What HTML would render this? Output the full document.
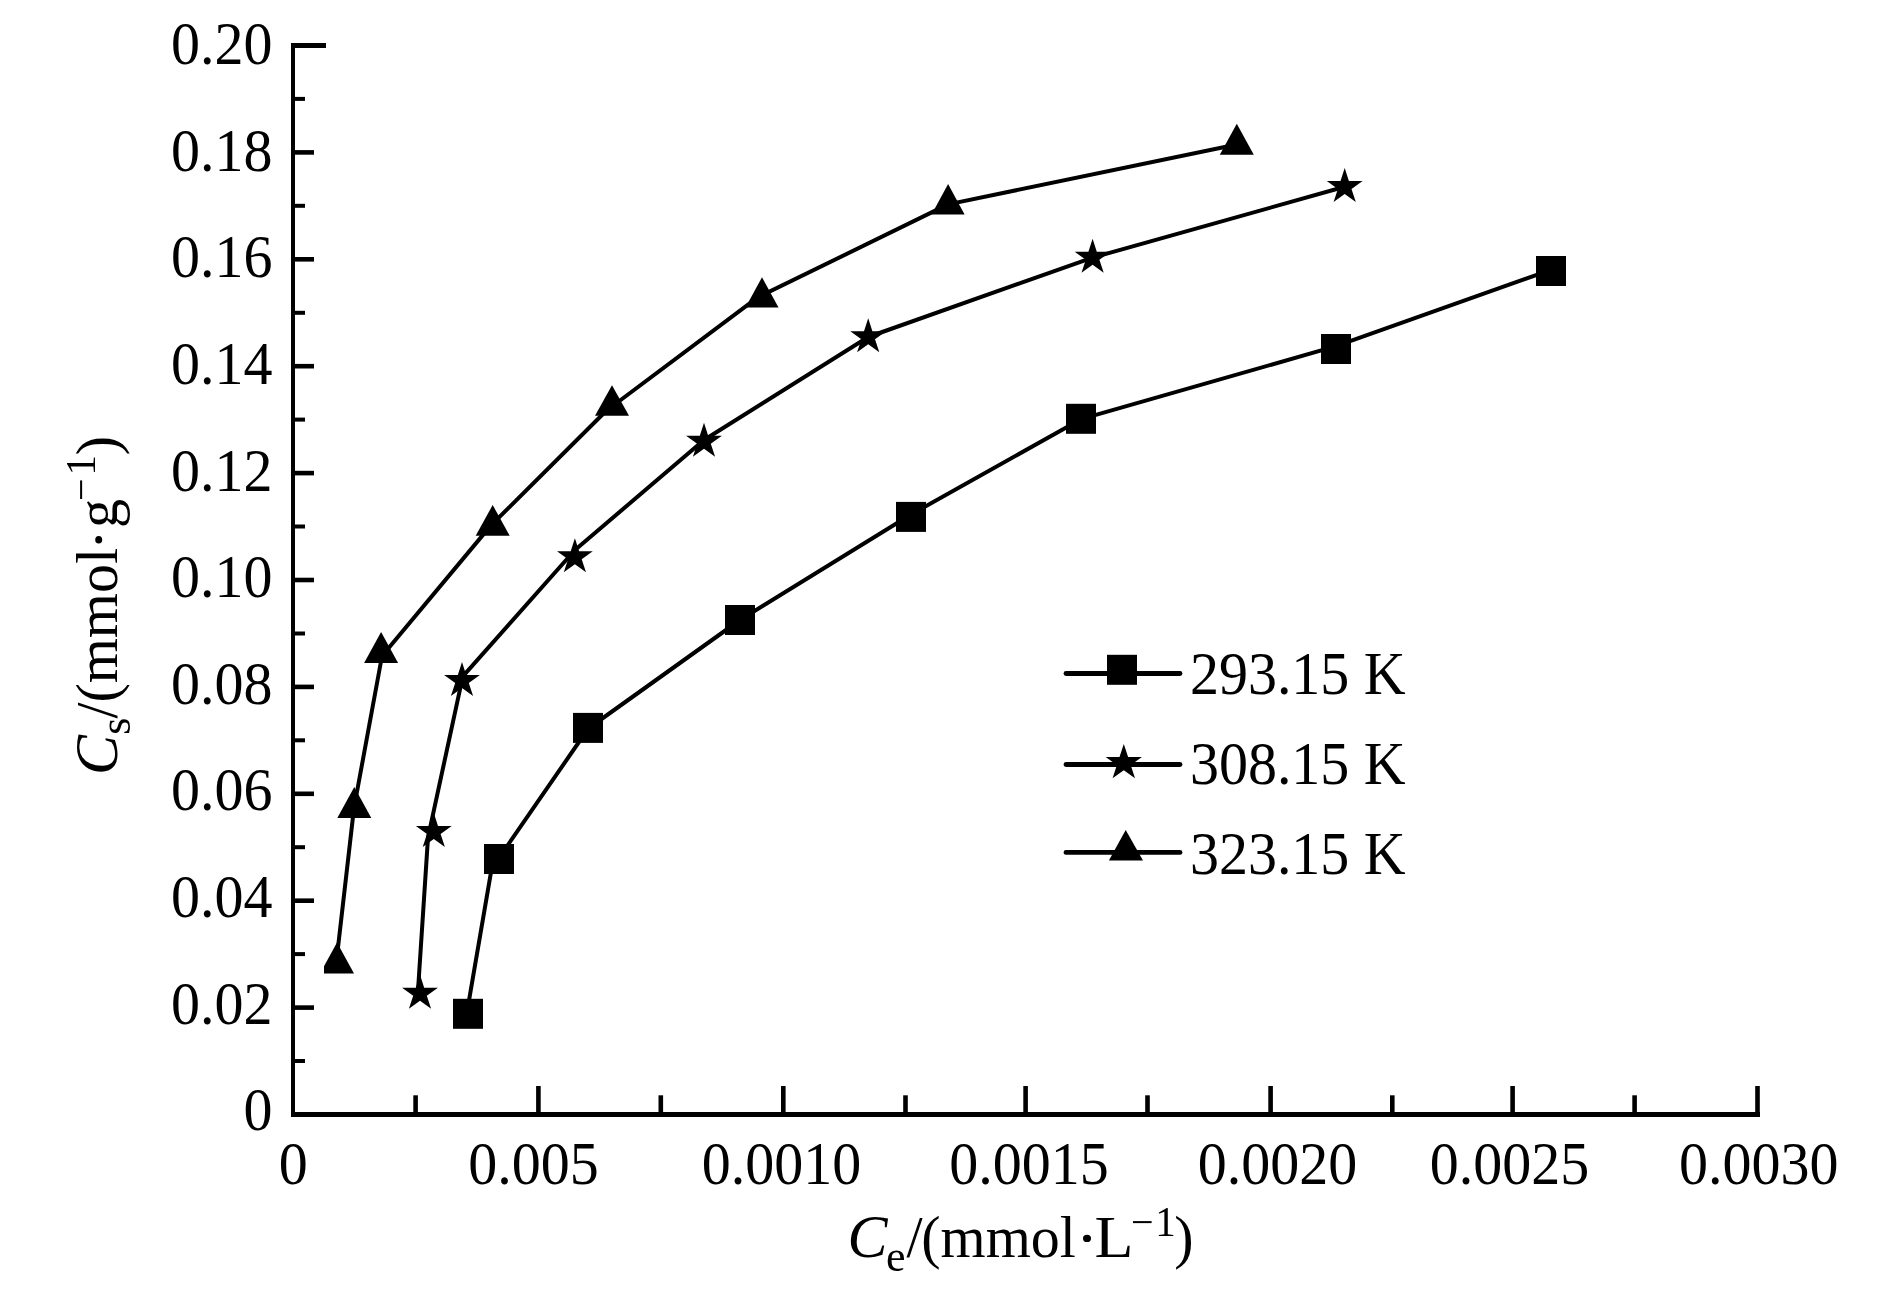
<!DOCTYPE html>
<html><head><meta charset="utf-8"><style>
html,body{margin:0;padding:0;background:#fff;}
body{width:1890px;height:1299px;overflow:hidden;}
svg{display:block;will-change:transform;}
.t{font-family:"Liberation Serif", serif;font-size:58px;fill:#000;}
</style></head><body>
<svg width="1890" height="1299" viewBox="0 0 1890 1299">
<rect width="1890" height="1299" fill="#fff"/>
<rect x="291" y="43" width="4" height="1074" fill="#000"/>
<rect x="291" y="1112" width="1469" height="5" fill="#000"/>
<rect x="291" y="43" width="35" height="5" fill="#000"/>
<rect x="295" y="1005.3" width="19" height="4.6" fill="#000"/>
<rect x="295" y="898.4" width="19" height="4.6" fill="#000"/>
<rect x="295" y="791.5" width="19" height="4.6" fill="#000"/>
<rect x="295" y="684.6" width="19" height="4.6" fill="#000"/>
<rect x="295" y="577.7" width="19" height="4.6" fill="#000"/>
<rect x="295" y="470.8" width="19" height="4.6" fill="#000"/>
<rect x="295" y="363.9" width="19" height="4.6" fill="#000"/>
<rect x="295" y="257.0" width="19" height="4.6" fill="#000"/>
<rect x="295" y="150.1" width="19" height="4.6" fill="#000"/>
<rect x="295" y="1059.0" width="10" height="4" fill="#000"/>
<rect x="295" y="952.1" width="10" height="4" fill="#000"/>
<rect x="295" y="845.2" width="10" height="4" fill="#000"/>
<rect x="295" y="738.3" width="10" height="4" fill="#000"/>
<rect x="295" y="631.5" width="10" height="4" fill="#000"/>
<rect x="295" y="524.5" width="10" height="4" fill="#000"/>
<rect x="295" y="417.6" width="10" height="4" fill="#000"/>
<rect x="295" y="310.8" width="10" height="4" fill="#000"/>
<rect x="295" y="203.8" width="10" height="4" fill="#000"/>
<rect x="295" y="96.9" width="10" height="4" fill="#000"/>
<rect x="536.1" y="1086" width="4.6" height="27" fill="#000"/>
<rect x="781.0" y="1086" width="4.6" height="27" fill="#000"/>
<rect x="1023.3" y="1086" width="4.6" height="27" fill="#000"/>
<rect x="1268.3" y="1086" width="4.6" height="27" fill="#000"/>
<rect x="1510.3" y="1086" width="4.6" height="27" fill="#000"/>
<rect x="1755.2" y="1086" width="4.6" height="27" fill="#000"/>
<rect x="413.3" y="1095.3" width="4.6" height="17.5" fill="#000"/>
<rect x="658.5" y="1095.3" width="4.6" height="17.5" fill="#000"/>
<rect x="903.2" y="1095.3" width="4.6" height="17.5" fill="#000"/>
<rect x="1145.2" y="1095.3" width="4.6" height="17.5" fill="#000"/>
<rect x="1390.0" y="1095.3" width="4.6" height="17.5" fill="#000"/>
<rect x="1632.3" y="1095.3" width="4.6" height="17.5" fill="#000"/>
<text transform="translate(272.4,1130.2) scale(1,1.04)" text-anchor="end" class="t">0</text>
<text transform="translate(272.4,1023.6) scale(1,1.04)" text-anchor="end" class="t">0.02</text>
<text transform="translate(272.4,917.0) scale(1,1.04)" text-anchor="end" class="t">0.04</text>
<text transform="translate(272.4,810.4) scale(1,1.04)" text-anchor="end" class="t">0.06</text>
<text transform="translate(272.4,703.8) scale(1,1.04)" text-anchor="end" class="t">0.08</text>
<text transform="translate(272.4,597.2) scale(1,1.04)" text-anchor="end" class="t">0.10</text>
<text transform="translate(272.4,490.6) scale(1,1.04)" text-anchor="end" class="t">0.12</text>
<text transform="translate(272.4,384.0) scale(1,1.04)" text-anchor="end" class="t">0.14</text>
<text transform="translate(272.4,277.4) scale(1,1.04)" text-anchor="end" class="t">0.16</text>
<text transform="translate(272.4,170.8) scale(1,1.04)" text-anchor="end" class="t">0.18</text>
<text transform="translate(272.4,64.2) scale(1,1.04)" text-anchor="end" class="t">0.20</text>
<text transform="translate(293.3,1183.6) scale(1,1.04)" text-anchor="middle" class="t">0</text>
<text transform="translate(533.5,1183.6) scale(1,1.04)" text-anchor="middle" class="t">0.005</text>
<text transform="translate(781.6,1183.6) scale(1,1.04)" text-anchor="middle" class="t">0.0010</text>
<text transform="translate(1029.0,1183.6) scale(1,1.04)" text-anchor="middle" class="t">0.0015</text>
<text transform="translate(1277.6,1183.6) scale(1,1.04)" text-anchor="middle" class="t">0.0020</text>
<text transform="translate(1509.6,1183.6) scale(1,1.04)" text-anchor="middle" class="t">0.0025</text>
<text transform="translate(1758.8,1183.6) scale(1,1.04)" text-anchor="middle" class="t">0.0030</text>
<polyline points="466.7,1013.8 491.6,868.6 588.3,728.5 740.0,620.0 911.0,514.5 1081.0,419.2 1336.0,346.2 1551.0,269.8" fill="none" stroke="#000" stroke-width="4" stroke-linejoin="round"/>
<polyline points="417.8,993.6 428.0,837.5 462.8,676.4 575.0,550.0 704.0,440.0 868.2,337.0 1092.6,257.6 1344.7,186.8" fill="none" stroke="#000" stroke-width="4" stroke-linejoin="round"/>
<polyline points="336.2,963.3 354.0,808.0 382.0,656.0 490.3,526.1 606.0,411.0 757.4,297.6 948.0,204.4 1236.8,144.5" fill="none" stroke="#000" stroke-width="4" stroke-linejoin="round"/>
<rect x="453.0" y="998.8" width="30" height="30" fill="#000"/>
<rect x="484.0" y="844.0" width="30" height="30" fill="#000"/>
<rect x="573.0" y="712.9" width="30" height="30" fill="#000"/>
<rect x="725.0" y="605.0" width="30" height="30" fill="#000"/>
<rect x="896.0" y="501.9" width="30" height="30" fill="#000"/>
<rect x="1066.0" y="403.8" width="30" height="30" fill="#000"/>
<rect x="1321.0" y="334.0" width="30" height="30" fill="#000"/>
<rect x="1536.0" y="256.0" width="30" height="30" fill="#000"/>
<polygon points="420.0,974.8 424.2,987.8 437.9,987.8 426.8,995.8 431.1,1008.8 420.0,1000.8 408.9,1008.8 413.2,995.8 402.1,987.8 415.8,987.8" fill="#000"/>
<polygon points="433.8,812.9 438.0,825.9 451.7,825.9 440.6,833.9 444.9,846.9 433.8,838.9 422.7,846.9 427.0,833.9 415.9,825.9 429.6,825.9" fill="#000"/>
<polygon points="462.0,662.1 466.2,675.1 479.9,675.1 468.8,683.1 473.1,696.1 462.0,688.1 450.9,696.1 455.2,683.1 444.1,675.1 457.8,675.1" fill="#000"/>
<polygon points="574.9,538.2 579.1,551.2 592.8,551.2 581.7,559.2 586.0,572.2 574.9,564.2 563.8,572.2 568.1,559.2 557.0,551.2 570.7,551.2" fill="#000"/>
<polygon points="704.0,422.8 708.2,435.8 721.9,435.8 710.8,443.8 715.1,456.8 704.0,448.8 692.9,456.8 697.2,443.8 686.1,435.8 699.8,435.8" fill="#000"/>
<polygon points="868.2,318.2 872.4,331.2 886.1,331.2 875.0,339.2 879.3,352.2 868.2,344.2 857.1,352.2 861.4,339.2 850.3,331.2 864.0,331.2" fill="#000"/>
<polygon points="1092.6,238.8 1096.8,251.8 1110.5,251.8 1099.4,259.8 1103.7,272.8 1092.6,264.8 1081.5,272.8 1085.8,259.8 1074.7,251.8 1088.4,251.8" fill="#000"/>
<polygon points="1344.7,168.0 1348.9,181.0 1362.6,181.0 1351.5,189.0 1355.8,202.0 1344.7,194.0 1333.6,202.0 1337.9,189.0 1326.8,181.0 1340.5,181.0" fill="#000"/>
<polygon points="337.0,942.6 354.0,973.6 324.0,973.6 324.0,966.3" fill="#000"/>
<polygon points="354.3,787.0 371.3,818.0 337.3,818.0" fill="#000"/>
<polygon points="381.1,632.0 398.1,663.0 364.1,663.0" fill="#000"/>
<polygon points="492.7,505.0 509.7,535.7 475.7,535.7" fill="#000"/>
<polygon points="612.0,385.2 629.0,415.7 595.0,415.7" fill="#000"/>
<polygon points="762.0,277.3 778.5,307.6 745.5,307.6" fill="#000"/>
<polygon points="948.1,184.1 964.6,214.6 931.6,214.6" fill="#000"/>
<polygon points="1236.8,123.8 1253.8,154.8 1219.8,154.8" fill="#000"/>
<line x1="1066" y1="673.5" x2="1180" y2="673.5" stroke="#000" stroke-width="4.8" stroke-linecap="round"/>
<line x1="1066" y1="764.5" x2="1180" y2="764.5" stroke="#000" stroke-width="4.8" stroke-linecap="round"/>
<line x1="1066" y1="852.4" x2="1180" y2="852.4" stroke="#000" stroke-width="4.8" stroke-linecap="round"/>
<rect x="1107.0" y="654.8" width="30" height="30" fill="#000"/>
<polygon points="1123.8,743.9 1128.1,757.0 1141.9,757.0 1130.7,765.1 1135.0,778.3 1123.8,770.2 1112.6,778.3 1116.9,765.1 1105.7,757.0 1119.5,757.0" fill="#000"/>
<polygon points="1125.7,830 1143,860.6 1108.9,860.6" fill="#000"/>
<text transform="translate(1189.9,694) scale(1,1.04)" text-anchor="start" class="t">293.15 K</text>
<text transform="translate(1189.9,784) scale(1,1.04)" text-anchor="start" class="t">308.15 K</text>
<text transform="translate(1189.9,874) scale(1,1.04)" text-anchor="start" class="t">323.15 K</text>
<g transform="translate(0,1257) scale(1,1.03)"><text y="0" class="t"><tspan x="847.5" font-style="italic" font-size="60">C</tspan><tspan x="886.1" y="13.5" font-size="44">e</tspan><tspan x="906.5" y="0">/</tspan><tspan x="921.3">(mmol</tspan><tspan x="1131.1" y="-20.8" font-size="40">−</tspan><tspan x="1155.2" font-size="41">1</tspan><tspan x="1174.3" y="0">)</tspan></text></g>
<ellipse cx="1087" cy="1238.4" rx="4" ry="3.6" fill="#000"/>
<text transform="translate(1094.4,1257) scale(1.1,1.03)" class="t">L</text>
<g transform="translate(117,774.9) rotate(-90) scale(1,1.03)"><text y="0" class="t"><tspan x="0" font-style="italic" font-size="60">C</tspan><tspan x="40.2" y="12.6" font-size="44">s</tspan><tspan x="56.4" y="0">/</tspan><tspan x="72.3">(mmol</tspan><tspan x="246.8">g</tspan><tspan x="273.8" y="-21.3" font-size="40">−</tspan><tspan x="299.4" font-size="41">1</tspan><tspan x="319.6" y="0">)</tspan></text></g>
<ellipse cx="98.7" cy="539.8" rx="3.5" ry="3.8" fill="#000"/>
</svg>
</body></html>
